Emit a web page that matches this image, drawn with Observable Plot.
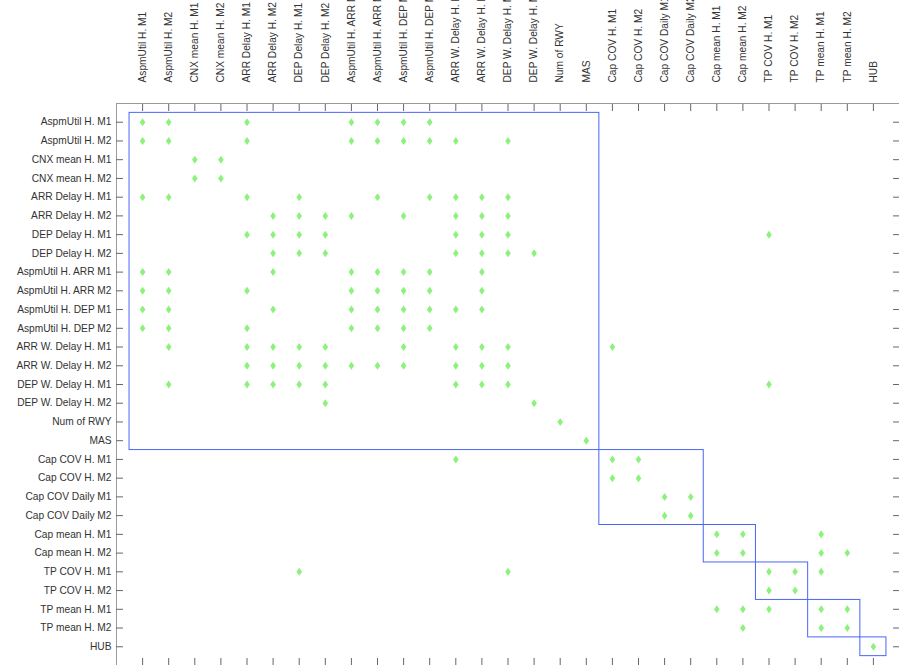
<!DOCTYPE html>
<html>
<head>
<meta charset="utf-8">
<script src="https://cdn.jsdelivr.net/npm/d3@7"></script>
<script src="https://cdn.jsdelivr.net/npm/@observablehq/plot@0.6"></script>
<style>
  html, body { margin: 0; padding: 0; background: #fff; overflow: hidden; }
</style>
</head>
<body>
<div id="chart"></div>
<script>
// Variable names (rows and columns share the same list)
const variables = [
  "AspmUtil H. M1", "AspmUtil H. M2", "CNX mean H. M1", "CNX mean H. M2",
  "ARR Delay H. M1", "ARR Delay H. M2", "DEP Delay H. M1", "DEP Delay H. M2",
  "AspmUtil H. ARR M1", "AspmUtil H. ARR M2", "AspmUtil H. DEP M1", "AspmUtil H. DEP M2",
  "ARR W. Delay H. M1", "ARR W. Delay H. M2", "DEP W. Delay H. M1", "DEP W. Delay H. M2",
  "Num of RWY", "MAS", "Cap COV H. M1", "Cap COV H. M2",
  "Cap COV Daily M1", "Cap COV Daily M2", "Cap mean H. M1", "Cap mean H. M2",
  "TP COV H. M1", "TP COV H. M2", "TP mean H. M1", "TP mean H. M2", "HUB"
];

// For each row (1-based), the columns (1-based) holding a marker
const rowMarkers = [
  [1, 2, 5, 9, 10, 11, 12],
  [1, 2, 5, 9, 10, 11, 12, 13, 15],
  [3, 4],
  [3, 4],
  [1, 2, 5, 7, 10, 12, 13, 14, 15],
  [6, 7, 8, 9, 11, 13, 14, 15],
  [5, 6, 7, 8, 13, 14, 15, 25],
  [6, 7, 8, 13, 14, 15, 16],
  [1, 2, 6, 9, 10, 11, 12, 14],
  [1, 2, 5, 9, 10, 11, 12, 14],
  [1, 2, 6, 9, 10, 11, 12, 13, 14],
  [1, 2, 5, 9, 10, 11, 12],
  [2, 5, 6, 7, 8, 11, 13, 14, 15, 19],
  [5, 6, 7, 8, 9, 10, 11, 13, 14, 15],
  [2, 5, 6, 7, 8, 13, 14, 15, 25],
  [8, 16],
  [17],
  [18],
  [13, 19, 20],
  [19, 20],
  [21, 22],
  [21, 22],
  [23, 24, 27],
  [23, 24, 27, 28],
  [7, 15, 25, 26, 27],
  [25, 26],
  [23, 24, 25, 27, 28],
  [24, 27, 28],
  [29]
];

// Cluster blocks: first and last variable index of each block
const blockStart = [1, 19, 23, 25, 27, 29];
const blockEnd   = [18, 22, 24, 26, 28, 29];

// ---- build tables from the arrays ----
const idx = variables.map((_, i) => i + 1);
const points = rowMarkers.flatMap((cols, r) => cols.map(c => ({row: r + 1, col: c})));
const blocks = blockStart.map((s, i) => ({s, e: blockEnd[i]}));
const label = d => variables[d - 1];

const tallDiamond = {
  draw(context) {
    context.moveTo(0, -4);
    context.lineTo(2.8, 0);
    context.lineTo(0, 4);
    context.lineTo(-2.8, 0);
    context.closePath();
  }
};

const tickColor = "#666";
const textColor = "#333";
const font = "10.2px 'Liberation Sans', Arial, Helvetica, sans-serif";

const chart = Plot.plot({
  width: 899,
  height: 665,
  marginLeft: 116,
  marginTop: 103,
  marginRight: 0,
  marginBottom: 0,
  style: {font, background: "#fff", color: textColor},
  x: {domain: [0, 30], axis: null},
  y: {domain: [0, 30], reverse: true, axis: null},
  marks: [
    Plot.frame({stroke: "#9a9a9a"}),
    // inward ticks on all four sides
    Plot.axisX(idx, {anchor: "top", tickSize: 7, dy: 7, fill: "none", stroke: tickColor, label: null}),
    Plot.axisX(idx, {anchor: "bottom", tickSize: 7, dy: -7, fill: "none", stroke: tickColor, label: null}),
    Plot.axisY(idx, {anchor: "left", tickSize: 7, dx: 7, fill: "none", stroke: tickColor, label: null}),
    Plot.axisY(idx, {anchor: "right", tickSize: 7, dx: -7, fill: "none", stroke: tickColor, label: null}),
    // labels
    Plot.axisX(idx, {
      anchor: "top", tickSize: 0, tickPadding: 21, tickRotate: -90,
      textAnchor: "start", lineAnchor: "middle",
      tickFormat: label, stroke: "none", fill: textColor, label: null
    }),
    Plot.axisY(idx, {
      anchor: "left", tickSize: 0, tickPadding: 5,
      tickFormat: label, stroke: "none", fill: textColor, label: null
    }),
    // cluster blocks
    Plot.rect(blocks, {
      x1: d => d.s - 0.5, x2: d => d.e + 0.5,
      y1: d => d.s - 0.5, y2: d => d.e + 0.5,
      fill: "none", stroke: "#4a66f5", strokeWidth: 1
    }),
    // markers
    Plot.dot(points, {x: "col", y: "row", symbol: tallDiamond, fill: "#8cf27c", stroke: "none"})
  ]
});

document.getElementById("chart").appendChild(chart);
</script>
</body>
</html>
